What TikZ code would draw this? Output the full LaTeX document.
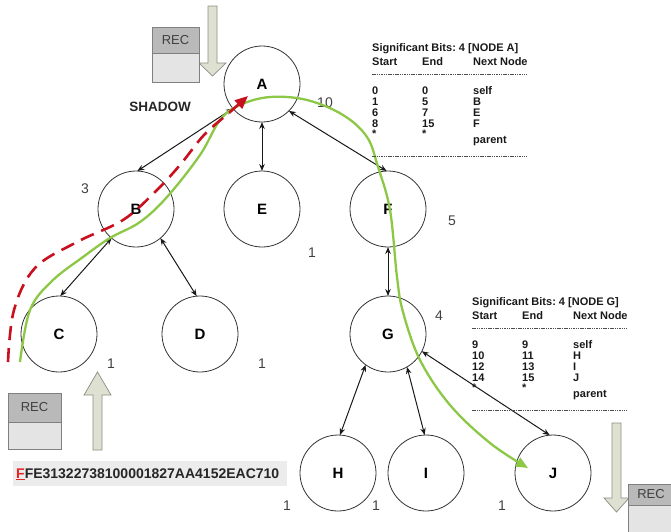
\documentclass[tikz,border=0pt]{standalone}
\usepackage{fontspec}
\setmainfont{Liberation Sans}
\usetikzlibrary{arrows.meta}
\definecolor{gline}{RGB}{140,200,70}
\definecolor{rline}{RGB}{200,16,30}
\definecolor{afill}{RGB}{222,225,210}
\definecolor{adraw}{RGB}{140,140,130}
\definecolor{recdark}{RGB}{185,185,185}
\definecolor{reclight}{RGB}{228,228,228}
\definecolor{hexbg}{RGB}{236,236,236}
\definecolor{hexred}{RGB}{225,40,35}
\frenchspacing
\begin{document}
\begin{tikzpicture}[x=1pt,y=-1pt,
  nd/.style={circle,draw=black!80,line width=0.8pt,minimum size=76pt,inner sep=0pt,outer sep=0pt,font=\fontsize{15}{15}\selectfont\bfseries},
  lnk/.style={{Stealth[length=7pt,width=5.5pt]}-{Stealth[length=7pt,width=5.5pt]},line width=1pt,black!90},
  num/.style={font=\fontsize{14}{14}\selectfont,text=black!75,inner sep=0pt},
  tb/.style={font=\fontsize{11}{11}\selectfont\bfseries,anchor=base west,inner sep=0pt,text=black!90},
  tdash/.style={dash pattern=on 1.5pt off 0.8pt,line width=0.7pt,black!70},
  garrow/.style={fill=afill,draw=adraw,line width=0.7pt},
  recbox/.style={draw=black!50,line width=0.7pt},
  rectext/.style={font=\fontsize{13}{13}\selectfont,text=black!75,inner sep=0pt}
]
\useasboundingbox (0,0) rectangle (671,531);

% nodes
\node[nd] (A) at (262,84) {A};
\node[nd] (B) at (136,209) {B};
\node[nd] (E) at (262,209) {E};
\node[nd] (F) at (388,209) {F};
\node[nd] (C) at (59,334) {C};
\node[nd] (D) at (200,334) {D};
\node[nd] (G) at (388,334) {G};
\node[nd] (H) at (338,473) {H};
\node[nd] (I) at (426,473) {I};
\node[nd] (J) at (553,473) {J};

% links
\draw[lnk] (A.-140) -- (B.88);
\draw[lnk] (A.-90) -- (E.90);
\draw[lnk] (A.-45) -- (F.92);
\draw[lnk] (B.-130) -- (C.88);
\draw[lnk] (B.-50) -- (D.95);
\draw[lnk] (F.-90) -- (G.90);
\draw[lnk] (G.-126) -- (H.87);
\draw[lnk] (G.-60) -- (I.92);
\draw[lnk] (G.-27) -- (J.95);

% numbers
\node[num] (n10) at (325,103) {10};
\node[num] (n3) at (85,189) {3};
\node[num] (n5) at (452,221) {5};
\node[num] (n1e) at (312,253) {1};
\node[num] (n4) at (439,316) {4};
\node[num] (n1c) at (111,364) {1};
\node[num] (n1d) at (262,364) {1};
\node[num] (n1h) at (287,506) {1};
\node[num] (n1i) at (376,506) {1};
\node[num] (n1j) at (502,506) {1};

\node[font=\fontsize{13.5}{13.5}\selectfont\bfseries,text=black!85,inner sep=0pt] (shadow) at (160,107) {SHADOW};

% green path
\draw[gline,line width=2.3pt,-{Triangle[length=12pt,width=10pt]}]
  plot[smooth,tension=0.6] coordinates {(20,362) (30,310) (52,281) (83,257) (110,238) (140,222) (167,197) (200,155) (220,120) (240,105) (270,97) (307,100) (343,115) (367,137) (378,167) (390,210) (397,277) (403,312) (420,360) (450,405) (490,443) (528,468)};

% red dashed path
\draw[rline,line width=2.6pt,dash pattern=on 14pt off 8pt,-{Triangle[length=13pt,width=11pt]}]
  plot[smooth,tension=0.6] coordinates {(8,362) (14,310) (35,268) (77,242) (123,220) (155,192) (180,165) (204,135) (230,112) (248,96)};

% gray arrows
\draw[garrow] (208,6) -- (217,6) -- (217,63) -- (226,63) -- (212.5,76) -- (199,63) -- (208,63) -- cycle;
\draw[garrow] (93,450) -- (102,450) -- (102,395) -- (111,395) -- (97.5,372) -- (84,395) -- (93,395) -- cycle;
\draw[garrow] (612,423) -- (621,423) -- (621,498) -- (629,498) -- (616.5,512) -- (604,498) -- (612,498) -- cycle;

% REC boxes
\draw[recbox,fill=recdark] (152,27) rectangle (199,53);
\draw[recbox,fill=reclight] (152,53) rectangle (199,82);
\node[rectext] (rec1) at (175.5,40) {REC};
\draw[recbox,fill=recdark] (8,393) rectangle (61,422);
\draw[recbox,fill=reclight] (8,422) rectangle (61,449);
\node[rectext] (rec2) at (34.5,407.5) {REC};
\draw[recbox,fill=recdark] (628,484) rectangle (690,505);
\draw[recbox,fill=reclight] (628,505) rectangle (690,540);
\node[rectext] (rec3) at (651,494.5) {REC};

% hex string
\fill[hexbg] (13,461) rectangle (287,486);
\node[font=\fontsize{14}{14}\selectfont\bfseries,anchor=base west,inner sep=0pt,text=black!85] (hex) at (16,478) {\textcolor{hexred}{\underline{F}}FE31322738100001827AA4152EAC710};

% table A
\node[tb] (ta0) at (372,51) {Significant Bits: 4 [NODE A]};
\node[tb] (ta1) at (372,65) {Start};
\node[tb] (ta2) at (422,65) {End};
\node[tb] (ta3) at (473,65) {Next Node};
\draw[tdash] (372,74) -- (527,74);
\node[tb] (ta4) at (372,94) {0}; \node[tb] (ta5) at (422,94) {0}; \node[tb] (ta6) at (473,94) {self};
\node[tb] (ta7) at (372,105) {1}; \node[tb] (ta8) at (422,105) {5}; \node[tb] (ta9) at (473,105) {B};
\node[tb] (ta10) at (372,116) {6}; \node[tb] (ta11) at (422,116) {7}; \node[tb] (ta12) at (473,116) {E};
\node[tb] (ta13) at (372,127) {8}; \node[tb] (ta14) at (422,127) {15}; \node[tb] (ta15) at (473,127) {F};
\node[tb] (ta16) at (372,137) {*}; \node[tb] (ta17) at (422,137) {*}; \node[tb] (ta18) at (473,143) {parent};
\draw[tdash] (372,156) -- (527,156);

% table G
\begin{scope}[shift={(100,254)}]
\node[tb] (tg0) at (372,51) {Significant Bits: 4 [NODE G]};
\node[tb] (tg1) at (372,65) {Start};
\node[tb] (tg2) at (422,65) {End};
\node[tb] (tg3) at (473,65) {Next Node};
\draw[tdash] (372,74) -- (527,74);
\node[tb] (tg4) at (372,94) {9}; \node[tb] (tg5) at (422,94) {9}; \node[tb] (tg6) at (473,94) {self};
\node[tb] (tg7) at (372,105) {10}; \node[tb] (tg8) at (422,105) {11}; \node[tb] (tg9) at (473,105) {H};
\node[tb] (tg10) at (372,116) {12}; \node[tb] (tg11) at (422,116) {13}; \node[tb] (tg12) at (473,116) {I};
\node[tb] (tg13) at (372,127) {14}; \node[tb] (tg14) at (422,127) {15}; \node[tb] (tg15) at (473,127) {J};
\node[tb] (tg16) at (372,137) {*}; \node[tb] (tg17) at (422,137) {*}; \node[tb] (tg18) at (473,143) {parent};
\draw[tdash] (372,156) -- (527,156);
\end{scope}

\end{tikzpicture}
\end{document}
